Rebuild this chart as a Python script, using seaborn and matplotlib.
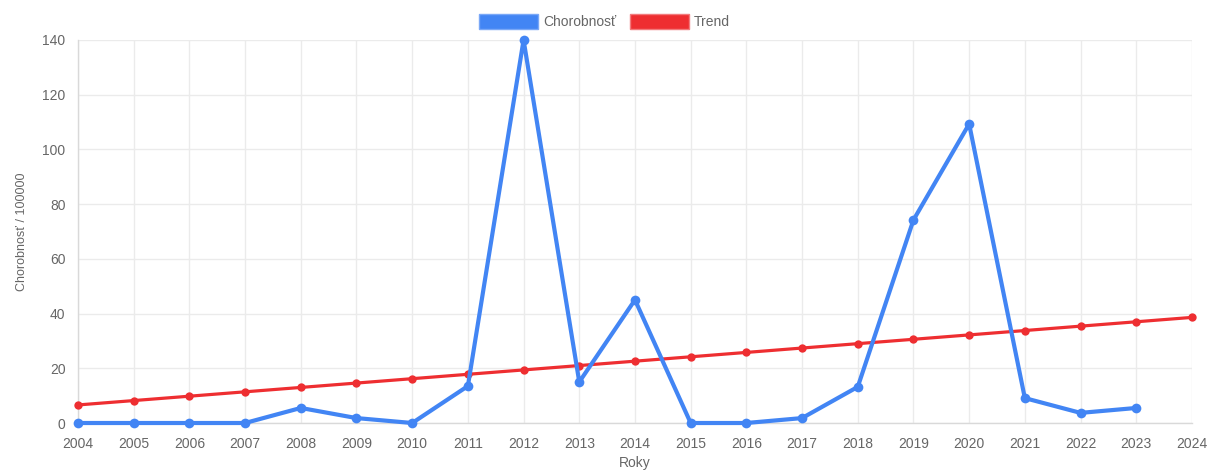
import pandas as pd
import matplotlib.pyplot as plt
import matplotlib.patches as mpatches
import seaborn as sns

# Data
years = list(range(2004, 2025))
incidence_years = list(range(2004, 2024))
incidence = [0, 0, 0, 0, 5.5, 1.8, 0, 13.5, 140, 15, 45, 0, 0, 1.8, 13.2, 74.2, 109.3, 9.1, 3.7, 5.5]
trend = [6.6, 8.2, 9.8, 11.4, 13.0, 14.6, 16.2, 17.8, 19.4, 21.0, 22.6,
         24.2, 25.8, 27.4, 29.0, 30.6, 32.2, 33.8, 35.4, 37.0, 38.6]
y_ticks = [0, 20, 40, 60, 80, 100, 120, 140]

blue = '#4285F4'
red = '#EE2E31'
grid_c = '#ebebeb'
text_c = '#666666'

sns.set_style('white')
plt.rcParams['font.family'] = ['Liberation Sans', 'DejaVu Sans']

df_inc = pd.DataFrame({'Rok': incidence_years, 'Chorobnosť': incidence})
df_trend = pd.DataFrame({'Rok': years, 'Trend': trend})

fig = plt.figure(figsize=(12.17, 4.72), dpi=100)
ax = fig.add_axes([0.0641, 0.1038, 0.9153, 0.8115])

sns.lineplot(data=df_trend, x='Rok', y='Trend', ax=ax, color=red, linewidth=2.3,
             marker='o', markersize=6, markeredgewidth=0, clip_on=False, zorder=3)
sns.lineplot(data=df_inc, x='Rok', y='Chorobnosť', ax=ax, color=blue, linewidth=3,
             marker='o', markersize=7, markeredgewidth=0, clip_on=False, zorder=4)

ax.set_xlim(2004, 2024)
ax.set_ylim(0, 140)
ax.set_xticks(years)
ax.set_xticklabels([str(y) for y in years])
ax.set_yticks(y_ticks)
ax.grid(True, color=grid_c, linewidth=1)
ax.set_axisbelow(True)
for s in ['top', 'right']:
    ax.spines[s].set_visible(False)
for s in ['left', 'bottom']:
    ax.spines[s].set_color('#d9d9d9')
    ax.spines[s].set_linewidth(1)
ax.tick_params(axis='both', length=6, color=grid_c, labelcolor=text_c, labelsize=10)
ax.tick_params(axis='x', pad=4)
ax.tick_params(axis='y', pad=3)

ax.set_xlabel('Roky', color=text_c, fontsize=10, labelpad=4)
ax.set_ylabel('Chorobnosť / 100000', color=text_c, fontsize=9, labelpad=10)

handles = [mpatches.Patch(facecolor=blue, edgecolor='#7aa8f7', label='Chorobnosť'),
           mpatches.Patch(facecolor=red, edgecolor='#f27a7c', label='Trend')]
fig.legend(handles=handles, loc='center', bbox_to_anchor=(0.497, 0.955), ncol=2,
           frameon=False, handlelength=4.2, handleheight=1.3, handletextpad=0.4,
           columnspacing=1.0, labelcolor=text_c, fontsize=10)

fig.savefig('out.png', dpi=100)
